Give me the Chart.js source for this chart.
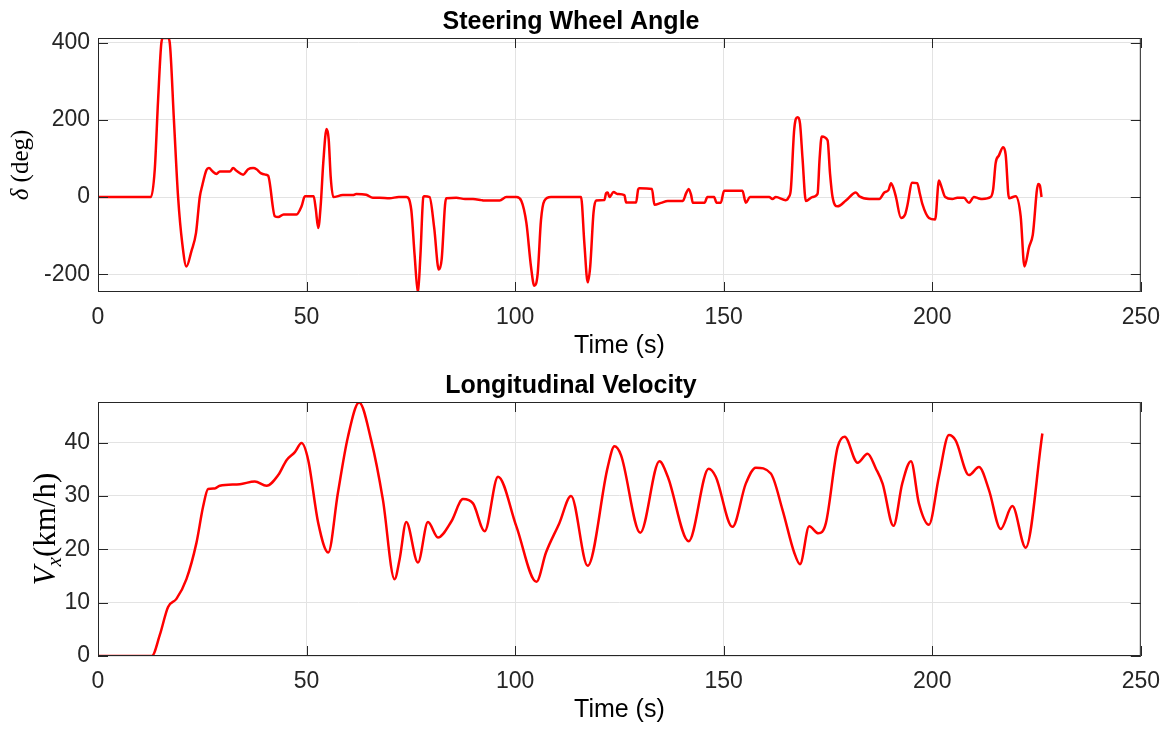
<!DOCTYPE html>
<html>
<head>
<meta charset="utf-8">
<script src="https://cdn.jsdelivr.net/npm/chart.js@4.4.1/dist/chart.umd.min.js"></script>
<style>
  html, body { margin: 0; padding: 0; background: #fff; }
  .panel { position: absolute; left: 0; width: 1172px; height: 365px; }
  #steer-panel { top: 0; }
  #speed-panel { top: 364px; }
</style>
</head>
<body>
<div class="panel" id="steer-panel"><canvas id="steer-chart" width="1172" height="365"></canvas></div>
<div class="panel" id="speed-panel"><canvas id="speed-chart" width="1172" height="365"></canvas></div>
<script>
// tick labels
const timeTicks = [0, 50, 100, 150, 200, 250];
const steerTicks = [-200, 0, 200, 400];
const speedTicks = [0, 10, 20, 30, 40];

// steering wheel angle (deg) vs time (s)
const steerTime = [
  0, 12.7, 13.6, 14.4, 15.2, 15.6, 16.8, 17.2, 18.2, 19.2, 20.2, 21.2, 22.4, 23.5, 24.4,
  25.0, 26.0, 26.6, 27.5, 28.4, 29.2, 31.6, 32.4, 33.2, 34.8, 36.0, 37.2, 38.0, 39.0, 40.2,
  40.8, 42.4, 43.2, 44.5, 47.6, 48.8, 49.6, 51.7, 52.2, 52.8, 53.4, 54.0, 54.8, 55.3, 55.8,
  56.4, 58.7, 61.1, 61.9, 64.3, 65.9, 67.5, 69.9, 72.1, 73.9, 75.1, 75.9, 76.7, 77.3, 78.0,
  78.3, 79.5, 80.6, 81.7, 82.4, 83.2, 83.5, 85.9, 88.0, 89.9, 91.9, 92.5, 96.3, 97.9, 100.3,
  101.5, 102.7, 103.8, 104.6, 105.4, 106.2, 107.0, 108.6, 115.4, 115.8, 116.6, 117.4, 118.0, 118.8, 119.4,
  121.4, 121.8, 122.2, 122.6, 123.6, 124.5, 126.2, 126.6, 127.2, 129.0, 129.5, 129.8, 132.8, 133.4, 135.0,
  136.6, 140.2, 141.0, 141.6, 142.2, 142.6, 145.4, 146.1, 147.7, 148.3, 149.3, 150.1, 154.5, 155.3, 156.3,
  160.9, 161.7, 162.5, 164.9, 165.6, 166.1, 166.9, 167.7, 168.3, 168.9, 169.7, 171.3, 172.5, 173.0, 173.5,
  174.9, 175.5, 176.1, 177.3, 179.3, 181.7, 182.5, 184.9, 187.3, 188.5, 189.5, 190.1, 190.8, 191.3, 192.5,
  193.5, 194.0, 195.2, 196.4, 197.0, 197.6, 199.2, 200.7, 201.6, 202.1, 203.1, 204.8, 206.0, 207.6, 208.8,
  210.0, 211.0, 212.0, 214.0, 214.6, 215.2, 216.0, 217.0, 217.6, 218.4, 220.0, 221.2, 222.1, 223.2, 224.1,
  225.4, 225.8, 226.2
];
const steerAngle = [
  0, 0, 70, 250, 400, 412, 412, 400, 200, 0, -120, -180, -140, -93, 0,
  30, 70, 75, 66, 60, 66, 66, 75, 68, 58, 72, 75, 72, 62, 58,
  55, -50, -52, -45, -45, -24, 2, 2, -30, -80, -20, 88, 176, 150, 50,
  0, 5, 5, 8, 6, -2, -2, -3, 0, 0, -33, -150, -247, -150, 0,
  2, 0, -80, -188, -160, -20, -3, -2, -5, -5, -8, -9, -9, 0, 0,
  -10, -67, -180, -230, -199, -60, -10, 0, 0, 0, -120, -221, -180, -40, -9,
  -8, 10, 12, 0, 13, 8, 5, -14, -14, -14, 20, 23, 21, -20, -15,
  -10, -10, 10, 21, 5, -15, -15, 0, 0, -15, -15, 16, 16, -15, 0,
  0, -5, 0, -8, 0, 20, 174, 207, 190, 100, -10, 0, 8, 100, 157,
  147, 60, 0, -24, -9, 12, 2, -5, -5, 12, 18, 36, 20, 0, -54,
  -45, -24, 37, 36, 10, -17, -54, -58, 43, 30, 0, -5, -2, -2, -15,
  0, -3, -5, 0, 20, 88, 108, 129, 110, -3, 2, -50, -180, -130, -98,
  34, 30, 0
];

// longitudinal velocity (km/h) vs time (s)
const speedTime = [
  0, 12.9, 14.8, 16.8, 18.8, 21.2, 23.6, 25.2, 26.4, 28.0, 29.2, 34.0, 37.6, 40.4, 43.2,
  45.2, 47.2, 48.8, 50.4, 52.8, 55.2, 57.5, 59.9, 62.6, 65.5, 68.3, 71.1, 72.3, 73.9, 76.7,
  79.1, 81.5, 84.7, 87.5, 89.9, 92.7, 95.9, 100.3, 105.1, 107.4, 110.6, 113.4, 117.4, 122.2, 123.8,
  125.4, 130.0, 134.6, 136.6, 141.6, 146.4, 148.1, 152.1, 155.3, 157.7, 161.3, 164.1, 166.9, 168.3, 170.5,
  172.7, 174.5, 177.3, 179.0, 182.1, 184.5, 186.5, 188.1, 190.7, 192.8, 194.9, 196.8, 199.2, 201.6, 204.0,
  205.6, 208.8, 211.2, 213.6, 216.4, 219.2, 222.4, 226.4
];
const speedValue = [
  0, 0, 3.9, 9.2, 10.7, 14.4, 21.2, 28.0, 31.3, 31.4, 31.9, 32.2, 32.7, 31.9, 33.9,
  36.7, 38.2, 39.9, 36.7, 24.9, 19.4, 30.5, 41.0, 47.5, 40.4, 29.3, 14.4, 18.1, 25.1, 17.5,
  25.1, 22.2, 25.2, 29.4, 28.6, 23.4, 33.6, 24.3, 13.9, 19.4, 24.9, 30.0, 16.9, 35.4, 39.3,
  37.6, 23.1, 36.5, 33.6, 21.5, 35.1, 33.6, 24.2, 32.3, 35.3, 34.2, 27.4, 19.4, 17.2, 24.3,
  23.0, 24.9, 39.1, 41.1, 36.2, 37.9, 35.1, 32.3, 24.4, 32.3, 36.5, 28.6, 24.6, 33.6, 41.4,
  40.4, 33.9, 35.4, 31.1, 23.8, 28.1, 20.3, 41.7
];

const AXIS_COLOR = '#262626';
const GRID_COLOR = '#e3e3e3';
const SANS = "'Liberation Sans', Arial, sans-serif";
const SERIF = "'Liberation Serif', 'DejaVu Serif', serif";

// box around the plot area, inward tick marks and a y label with mixed styles
const axesBox = {
  id: 'axesBox',
  afterDraw(chart, args, opts) {
    const { ctx, chartArea: a, scales: { x, y } } = chart;
    const len = 10;
    ctx.save();
    ctx.strokeStyle = AXIS_COLOR;
    ctx.lineWidth = 1;
    ctx.strokeRect(a.left + 0.5, a.top + 0.5, a.right - a.left - 1, a.bottom - a.top - 1);
    ctx.beginPath();
    x.ticks.forEach((t) => {
      const px = Math.round(x.getPixelForValue(t.value)) + 0.5;
      ctx.moveTo(px, a.bottom);
      ctx.lineTo(px, a.bottom - len);
      ctx.moveTo(px, a.top);
      ctx.lineTo(px, a.top + len);
    });
    y.ticks.forEach((t) => {
      const py = Math.round(y.getPixelForValue(t.value)) + 0.5;
      ctx.moveTo(a.left, py);
      ctx.lineTo(a.left + len, py);
      ctx.moveTo(a.right, py);
      ctx.lineTo(a.right - len, py);
    });
    ctx.stroke();

    // rotated y label
    const parts = opts.parts || [];
    ctx.fillStyle = '#000';
    ctx.textBaseline = 'alphabetic';
    let total = 0;
    parts.forEach((p) => {
      ctx.font = `${p.style || ''} ${p.size}px ${SERIF}`;
      p.w = ctx.measureText(p.text).width;
      total += p.w;
    });
    ctx.translate(opts.labelX, (a.top + a.bottom) / 2);
    ctx.rotate(-Math.PI / 2);
    let cx = -total / 2;
    parts.forEach((p) => {
      ctx.font = `${p.style || ''} ${p.size}px ${SERIF}`;
      ctx.fillText(p.text, cx, p.dy || 0);
      cx += p.w;
    });
    ctx.restore();
  }
};

function toPoints(xs, ys) {
  return xs.map((t, i) => ({ x: t, y: ys[i] }));
}

function makeChart(canvasId, title, times, values, yMin, yMax, yTicks, yLabel) {
  const ctx = document.getElementById(canvasId).getContext('2d');
  return new Chart(ctx, {
    type: 'line',
    data: {
      datasets: [
        {
          data: toPoints(times, values),
          borderColor: '#ff0000',
          borderWidth: 2.5,
          pointRadius: 0,
          cubicInterpolationMode: 'monotone',
          fill: false,
        },
      ],
    },
    options: {
      responsive: false,
      animation: false,
      layout: { padding: { left: 0, right: 30, top: 0, bottom: 0 } },
      plugins: {
        legend: { display: false },
        tooltip: { enabled: false },
        title: {
          display: true,
          text: title,
          color: '#000',
          font: { family: SANS, size: 25, weight: 'bold', lineHeight: 1.2 },
          padding: { top: 7, bottom: 1 },
        },
        axesBox: yLabel,
      },
      scales: {
        x: {
          type: 'linear',
          min: 0,
          max: 250,
          afterBuildTicks: (scale) => {
            scale.ticks = timeTicks.map((v) => ({ value: v }));
          },
          afterFit: (scale) => {
            scale.height = 73;
          },
          grid: { color: GRID_COLOR, drawTicks: false },
          border: { display: false },
          ticks: { color: AXIS_COLOR, font: { family: SANS, size: 23 }, padding: 12, maxRotation: 0 },
          title: {
            display: true,
            text: 'Time (s)',
            color: '#000',
            font: { family: SANS, size: 25 },
            padding: { top: 0, bottom: 4 },
          },
        },
        y: {
          min: yMin,
          max: yMax,
          afterBuildTicks: (scale) => {
            scale.ticks = yTicks.map((v) => ({ value: v }));
          },
          afterFit: (scale) => {
            scale.width = 98;
          },
          grid: { color: GRID_COLOR, drawTicks: false },
          border: { display: false },
          ticks: { color: AXIS_COLOR, font: { family: SANS, size: 23 }, padding: 8 },
        },
      },
    },
    plugins: [axesBox],
  });
}

makeChart('steer-chart', 'Steering Wheel Angle', steerTime, steerAngle, -246, 412, steerTicks, {
  labelX: 28,
  parts: [
    { text: 'δ', style: 'italic', size: 25 },
    { text: ' (deg)', size: 25 },
  ],
});

makeChart('speed-chart', 'Longitudinal Velocity', speedTime, speedValue, 0, 47.6, speedTicks, {
  labelX: 55,
  parts: [
    { text: 'V', style: 'italic', size: 31 },
    { text: 'x', style: 'italic', size: 21, dy: 6 },
    { text: '(km/h)', size: 31 },
  ],
});
</script>
</body>
</html>
